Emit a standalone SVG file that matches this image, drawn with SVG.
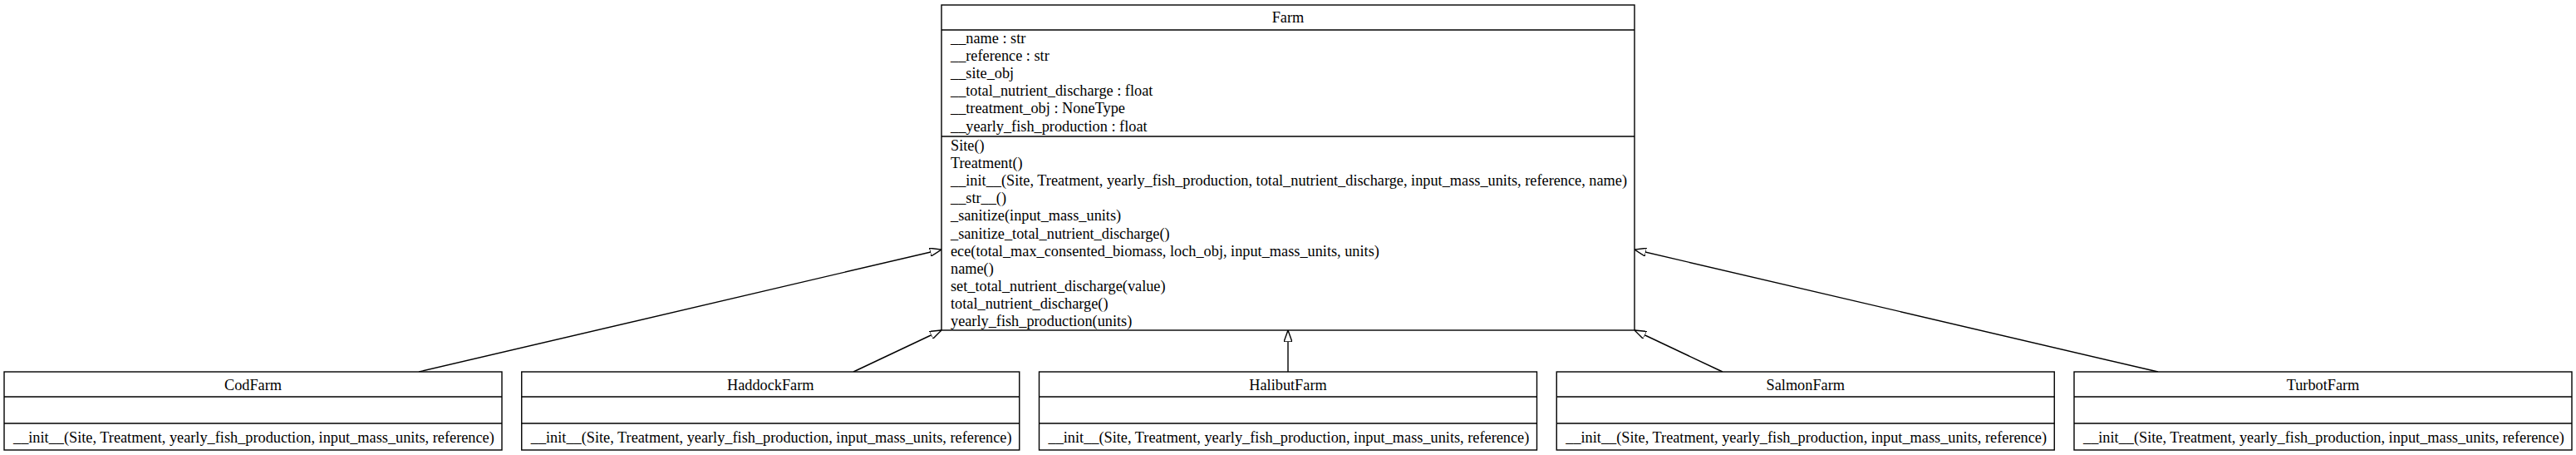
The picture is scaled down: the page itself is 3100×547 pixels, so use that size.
<svg xmlns="http://www.w3.org/2000/svg" width="3100" height="547" viewBox="0 0 3100 547">
<style>
  .box { fill: #ffffff; stroke: #000000; stroke-width: 1.4; }
  .div { stroke: #000000; stroke-width: 1.4; }
  text { font-family: "Liberation Serif", "Times New Roman", serif; font-size: 18.3px; fill: #000000; }
  .title { text-anchor: middle; }
  .edge { fill: none; stroke: #000000; stroke-width: 1.4; marker-end: url(#hollow); }
</style>
<defs>
  <marker id="hollow" viewBox="0 0 14 10" refX="14" refY="5" markerWidth="14" markerHeight="10" markerUnits="userSpaceOnUse" orient="auto">
    <path d="M0,0 L14,5 L0,10 z" fill="#ffffff" stroke="#000000" stroke-width="1.4"/>
  </marker>
</defs>
<rect width="3100" height="547" fill="#ffffff"/>

<g id="edges">
  <path class="edge" d="M504,447 L1133,300"/>
  <path class="edge" d="M1027,447 L1133,397"/>
  <path class="edge" d="M1550,447 L1550,397"/>
  <path class="edge" d="M2073,447 L1967,397"/>
  <path class="edge" d="M2597,447 L1967,300"/>
</g>

<g id="Farm">
  <rect class="box" x="1133" y="6" width="834" height="391"/>
  <line class="div" x1="1133" y1="36" x2="1967" y2="36"/>
  <line class="div" x1="1133" y1="164" x2="1967" y2="164"/>
  <text class="title" x="1550" y="27">Farm</text>
  <text x="1144" y="52">__name : str</text>
  <text x="1144" y="73.1">__reference : str</text>
  <text x="1144" y="94.2">__site_obj</text>
  <text x="1144" y="115.3">__total_nutrient_discharge : float</text>
  <text x="1144" y="136.4">__treatment_obj : NoneType</text>
  <text x="1144" y="157.5">__yearly_fish_production : float</text>
  <text x="1144" y="181">Site()</text>
  <text x="1144" y="202.1">Treatment()</text>
  <text x="1144" y="223.2">__init__(Site, Treatment, yearly_fish_production, total_nutrient_discharge, input_mass_units, reference, name)</text>
  <text x="1144" y="244.3">__str__()</text>
  <text x="1144" y="265.4">_sanitize(input_mass_units)</text>
  <text x="1144" y="286.5">_sanitize_total_nutrient_discharge()</text>
  <text x="1144" y="307.6">ece(total_max_consented_biomass, loch_obj, input_mass_units, units)</text>
  <text x="1144" y="328.7">name()</text>
  <text x="1144" y="349.8">set_total_nutrient_discharge(value)</text>
  <text x="1144" y="370.9">total_nutrient_discharge()</text>
  <text x="1144" y="392">yearly_fish_production(units)</text>
</g>

<g id="CodFarm">
  <rect class="box" x="5" y="447" width="599" height="94"/>
  <line class="div" x1="5" y1="477" x2="604" y2="477"/>
  <line class="div" x1="5" y1="509" x2="604" y2="509"/>
  <text class="title" x="304.5" y="469">CodFarm</text>
  <text x="16" y="532">__init__(Site, Treatment, yearly_fish_production, input_mass_units, reference)</text>
</g>

<g id="HaddockFarm">
  <rect class="box" x="627.75" y="447" width="599" height="94"/>
  <line class="div" x1="627.75" y1="477" x2="1226.75" y2="477"/>
  <line class="div" x1="627.75" y1="509" x2="1226.75" y2="509"/>
  <text class="title" x="927.25" y="469">HaddockFarm</text>
  <text x="638.75" y="532">__init__(Site, Treatment, yearly_fish_production, input_mass_units, reference)</text>
</g>

<g id="HalibutFarm">
  <rect class="box" x="1250.5" y="447" width="599" height="94"/>
  <line class="div" x1="1250.5" y1="477" x2="1849.5" y2="477"/>
  <line class="div" x1="1250.5" y1="509" x2="1849.5" y2="509"/>
  <text class="title" x="1550" y="469">HalibutFarm</text>
  <text x="1261.5" y="532">__init__(Site, Treatment, yearly_fish_production, input_mass_units, reference)</text>
</g>

<g id="SalmonFarm">
  <rect class="box" x="1873.25" y="447" width="599" height="94"/>
  <line class="div" x1="1873.25" y1="477" x2="2472.25" y2="477"/>
  <line class="div" x1="1873.25" y1="509" x2="2472.25" y2="509"/>
  <text class="title" x="2172.75" y="469">SalmonFarm</text>
  <text x="1884.25" y="532">__init__(Site, Treatment, yearly_fish_production, input_mass_units, reference)</text>
</g>

<g id="TurbotFarm">
  <rect class="box" x="2496" y="447" width="599" height="94"/>
  <line class="div" x1="2496" y1="477" x2="3095" y2="477"/>
  <line class="div" x1="2496" y1="509" x2="3095" y2="509"/>
  <text class="title" x="2795.5" y="469">TurbotFarm</text>
  <text x="2507" y="532">__init__(Site, Treatment, yearly_fish_production, input_mass_units, reference)</text>
</g>
</svg>
